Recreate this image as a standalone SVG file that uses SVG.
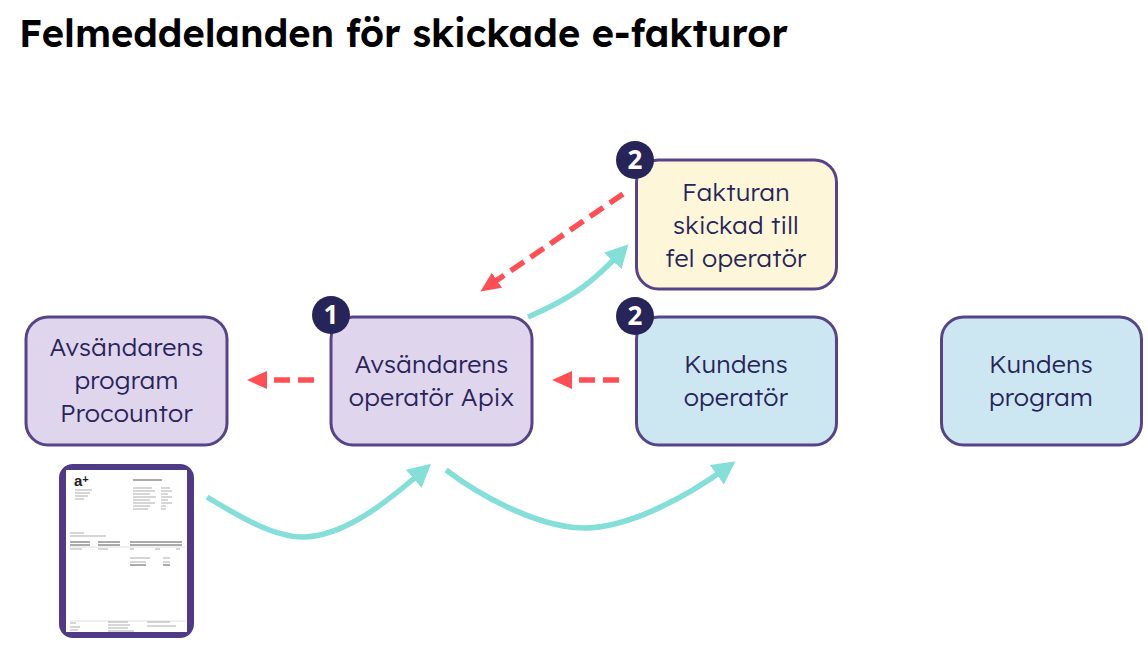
<svg xmlns="http://www.w3.org/2000/svg" width="1148" height="646" viewBox="0 0 1148 646">
<style>
.box{stroke:#574488;stroke-width:3}
.lab{font-family:"Lexend","Open Sans","Noto Sans",sans-serif;font-weight:300;font-size:25px;letter-spacing:.25px;fill:#27245a;text-anchor:middle}
.num{font-family:"Noto Sans",sans-serif;font-size:26px;font-weight:700;fill:#fff;text-anchor:middle}
.teal{fill:none;stroke:#84dfd9;stroke-width:5.500}
.red{fill:none;stroke:#ff4f55;stroke-width:5.500;stroke-dasharray:16 8}
.ink{stroke:#8a8a8a;stroke-width:.7;fill:none}
.dark{stroke:#444;stroke-width:.9;fill:none}
</style>
<defs>
<marker id="t" markerUnits="userSpaceOnUse" markerWidth="26" markerHeight="26" refX="15" refY="12" orient="auto"><path d="M0 0L23 12L0 24Z" fill="#84dfd9"/></marker>
<marker id="r" markerUnits="userSpaceOnUse" markerWidth="24" markerHeight="24" refX="12" refY="9" orient="auto"><path d="M0 0L20 9L0 18Z" fill="#ff4f55"/></marker>
</defs>
<rect width="1148" height="646" fill="#fff"/>
<text x="19" y="47" font-family="Lexend,'Noto Sans',sans-serif" font-weight="600" font-size="38px" fill="#000">Felmeddelanden för skickade e-fakturor</text>
<g id="connectors">
<path class="teal" d="M207 497C240 517 275 538 305 537C345 535 385 504 425 469" marker-end="url(#t)"/>
<path class="teal" d="M446 470C490 503 545 528 585 528C630 527 685 498 729 466" marker-end="url(#t)"/>
<path class="teal" d="M528 317C575 297 595 280 623 250" marker-end="url(#t)"/>
<path class="red" d="M623 194L487 287" marker-end="url(#r)"/>
<path class="red" d="M314 380H255" marker-end="url(#r)"/>
<path class="red" d="M619 380H560" marker-end="url(#r)"/>
</g>
<g id="n1"><rect class="box" x="26" y="317" width="201" height="128" rx="22" fill="#dfd5ec"/><text class="lab" x="126.500" y="356">Avsändarens</text><text class="lab" x="126.500" y="389">program</text><text class="lab" x="126.500" y="422">Procountor</text></g>
<g id="n2"><rect class="box" x="331" y="317" width="201" height="128" rx="22" fill="#dfd5ec"/><text class="lab" x="431.500" y="373">Avsändarens</text><text class="lab" x="431.500" y="406">operatör Apix</text></g>
<g id="n3"><rect class="box" x="636.500" y="160" width="200" height="129" rx="22" fill="#fdf6d9"/><text class="lab" x="736" y="201">Fakturan</text><text class="lab" x="736" y="234">skickad till</text><text class="lab" x="736" y="267">fel operatör</text></g>
<g id="n4"><rect class="box" x="636.500" y="317" width="200" height="128" rx="22" fill="#cde7f2"/><text class="lab" x="736" y="373">Kundens</text><text class="lab" x="736" y="406">operatör</text></g>
<g id="n5"><rect class="box" x="941.500" y="317" width="200" height="128" rx="22" fill="#cde7f2"/><text class="lab" x="1041" y="373">Kundens</text><text class="lab" x="1041" y="406">program</text></g>
<g id="b1"><circle cx="331" cy="315" r="19" fill="#27245a"/><text class="num" x="331" y="324">1</text></g>
<g id="b2"><circle cx="635" cy="160" r="19" fill="#27245a"/><text class="num" x="635" y="169">2</text></g>
<g id="b3"><circle cx="635" cy="316" r="19" fill="#27245a"/><text class="num" x="635" y="325">2</text></g>
<g id="invoice">
<rect x="59" y="464" width="135" height="174" rx="14" fill="#4f3b85"/>
<rect x="66" y="470" width="121" height="162" fill="#fff"/>
<text x="74" y="486" font-family="'Liberation Sans',sans-serif" font-weight="700" font-size="15px" fill="#222">a<tspan font-size="11px" dy="-3">+</tspan></text>
<path class="dark" d="M133 480H162"/>
<path class="ink" d="M75 490H92M75 493H90M75 496H88M75 499H84M133 488H152M133 491H155M133 494H150M133 497H156M133 500H150M133 503H155M133 506H150M133 509H148M161 488H170M161 491H172M161 494H168M161 497H172M161 500H168M161 503H172M161 506H166M161 509H166M70 533H84M70 536H106"/>
<path class="dark" d="M70 542H90M98 542H120M130 542H182M70 545H90M98 545H120M130 545H182"/>
<path stroke="#ccc" stroke-width=".6" d="M70 547H185M70 621H185"/>
<path class="ink" d="M70 549H82M98 549H108M130 549H134M155 549H160M176 549H180M130 558H150M163 558H170M130 562H146M163 562H170"/>
<path class="dark" d="M130 565H146M163 565H170"/>
<path class="ink" d="M70 623H76M70 627H80M70 630H78M108 622H128M108 625H130M108 628H128M108 631H134M147 622H170M147 626H176"/>
</g>
</svg>
